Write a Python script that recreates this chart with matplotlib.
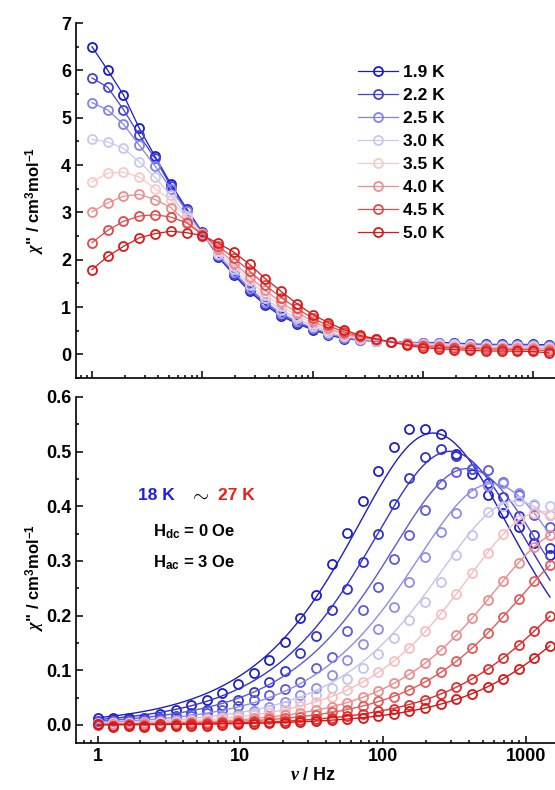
import numpy as np
import matplotlib
matplotlib.use("Agg")
import matplotlib.pyplot as plt
from matplotlib.ticker import LogLocator, NullFormatter, MultipleLocator, FixedLocator, FixedFormatter

plt.rcParams['font.family'] = ['Liberation Sans', 'DejaVu Sans']
plt.rcParams['font.weight'] = 'bold'
plt.rcParams['mathtext.fontset'] = 'custom'
plt.rcParams['mathtext.rm'] = 'Liberation Sans:bold'
plt.rcParams['mathtext.bf'] = 'Liberation Sans:bold'
plt.rcParams['mathtext.it'] = 'Liberation Serif:italic'

# ---- top panel data (low temperature) ----
freq_top = [1.00, 1.39, 1.93, 2.68, 3.73, 5.18, 7.20, 10.0, 13.9, 19.3, 26.8, 37.3, 51.8, 72.0, 100,
            139, 193, 268, 373, 518, 720, 1000, 1389, 1931, 2683, 3728, 5179, 7197, 10000, 13895]
temps_top = ["1.9 K", "2.2 K", "2.5 K", "3.0 K", "3.5 K", "4.0 K", "4.5 K", "5.0 K"]
t19 = [6.50, 6.00, 5.48, 4.78, 4.18, 3.60, 3.08, 2.58, 2.06, 1.68, 1.33, 1.04, 0.81, 0.65, 0.52,
       0.41, 0.33, 0.30, 0.28, 0.27, 0.25, 0.25, 0.25, 0.24, 0.22, 0.21, 0.21, 0.21, 0.21, 0.20]
t22 = [5.84, 5.64, 5.17, 4.63, 4.14, 3.55, 3.05, 2.57, 2.07, 1.70, 1.36, 1.07, 0.84, 0.67, 0.54,
       0.42, 0.34, 0.30, 0.28, 0.27, 0.25, 0.24, 0.24, 0.23, 0.21, 0.20, 0.20, 0.20, 0.20, 0.19]
t25 = [5.32, 5.16, 4.86, 4.42, 3.98, 3.50, 3.02, 2.56, 2.09, 1.74, 1.40, 1.11, 0.87, 0.70, 0.56,
       0.44, 0.35, 0.31, 0.29, 0.27, 0.24, 0.24, 0.23, 0.22, 0.20, 0.19, 0.19, 0.19, 0.19, 0.18]
t30 = [4.54, 4.49, 4.35, 4.07, 3.74, 3.36, 2.93, 2.55, 2.13, 1.80, 1.47, 1.18, 0.94, 0.76, 0.60,
       0.48, 0.38, 0.33, 0.29, 0.27, 0.24, 0.22, 0.22, 0.21, 0.19, 0.18, 0.18, 0.17, 0.17, 0.16]
t35 = [3.64, 3.83, 3.85, 3.75, 3.50, 3.26, 2.89, 2.55, 2.18, 1.87, 1.56, 1.26, 1.02, 0.82, 0.65,
       0.51, 0.41, 0.34, 0.30, 0.27, 0.23, 0.21, 0.20, 0.18, 0.17, 0.15, 0.15, 0.15, 0.15, 0.13]
t40 = [3.01, 3.20, 3.34, 3.38, 3.27, 3.10, 2.80, 2.54, 2.22, 1.94, 1.64, 1.35, 1.10, 0.88, 0.70,
       0.55, 0.43, 0.36, 0.31, 0.26, 0.22, 0.19, 0.18, 0.16, 0.15, 0.13, 0.13, 0.13, 0.13, 0.11]
t45 = [2.36, 2.62, 2.81, 2.92, 2.95, 2.90, 2.78, 2.53, 2.28, 2.04, 1.76, 1.46, 1.20, 0.97, 0.76,
       0.61, 0.47, 0.38, 0.32, 0.26, 0.21, 0.17, 0.15, 0.14, 0.12, 0.11, 0.11, 0.10, 0.10, 0.07]
t50 = [1.79, 2.07, 2.28, 2.46, 2.55, 2.60, 2.57, 2.51, 2.35, 2.16, 1.90, 1.60, 1.33, 1.07, 0.84,
       0.67, 0.52, 0.40, 0.33, 0.26, 0.19, 0.14, 0.12, 0.10, 0.085, 0.07, 0.07, 0.065, 0.06, 0.03]
series_top = [t19, t22, t25, t30, t35, t40, t45, t50]
colors_top = ["#1919d2", "#4141dc", "#8282eb", "#c8c8f5", "#fac8c8", "#f08c8c", "#e14b4b", "#dc1919"]

# ---- bottom panel data (high temperature, 18 K ... 27 K) ----
freq_bot = [1.00, 1.29, 1.65, 2.13, 2.74, 3.52, 4.52, 5.82, 7.48, 9.62, 12.4, 15.9, 20.5, 26.3, 33.9,
            43.6, 56.0, 72.0, 92.6, 119, 153, 197, 253, 326, 419, 539, 693, 892, 1147, 1475]
b18 = [0.012, 0.012, 0.013, 0.013, 0.020, 0.027, 0.036, 0.046, 0.058, 0.075, 0.095, 0.119, 0.151, 0.195, 0.238,
       0.294, 0.352, 0.410, 0.465, 0.509, 0.541, 0.542, 0.532, 0.495, 0.460, 0.420, 0.388, 0.362, 0.332, 0.311]
b19 = [0.008, 0.009, 0.010, 0.011, 0.013, 0.017, 0.022, 0.028, 0.036, 0.046, 0.060, 0.079, 0.099, 0.132, 0.163,
       0.210, 0.249, 0.299, 0.349, 0.404, 0.452, 0.490, 0.505, 0.492, 0.469, 0.443, 0.417, 0.382, 0.347, 0.323]
b20 = [0.006, 0.007, 0.008, 0.009, 0.011, 0.014, 0.017, 0.021, 0.027, 0.035, 0.045, 0.055, 0.066, 0.079, 0.104,
       0.125, 0.171, 0.210, 0.253, 0.303, 0.347, 0.393, 0.440, 0.463, 0.469, 0.466, 0.445, 0.420, 0.385, 0.362]
b21 = [0.004, 0.005, 0.005, 0.006, 0.007, 0.009, 0.011, 0.013, 0.016, 0.020, 0.026, 0.033, 0.042, 0.054, 0.068,
       0.092, 0.119, 0.148, 0.176, 0.216, 0.262, 0.308, 0.353, 0.388, 0.425, 0.437, 0.442, 0.424, 0.402, 0.385]
b22 = [0.003, 0.004, 0.004, 0.005, 0.006, 0.007, 0.009, 0.011, 0.013, 0.017, 0.021, 0.027, 0.034, 0.043, 0.054,
       0.068, 0.085, 0.105, 0.130, 0.160, 0.192, 0.225, 0.262, 0.311, 0.347, 0.390, 0.400, 0.410, 0.405, 0.400]
b23 = [0.002, 0.003, 0.003, 0.004, 0.005, 0.006, 0.008, 0.010, 0.012, 0.015, 0.018, 0.022, 0.028, 0.034, 0.042,
       0.052, 0.064, 0.079, 0.096, 0.117, 0.140, 0.171, 0.203, 0.240, 0.278, 0.315, 0.349, 0.375, 0.388, 0.384]
b24 = [0.001, 0.002, 0.000, 0.003, 0.002, 0.004, 0.005, 0.006, 0.008, 0.009, 0.012, 0.014, 0.018, 0.022, 0.027,
       0.033, 0.041, 0.051, 0.062, 0.076, 0.093, 0.113, 0.137, 0.164, 0.195, 0.229, 0.264, 0.297, 0.326, 0.347]
b25 = [0.001, -0.001, 0.001, 0.000, 0.002, 0.001, 0.003, 0.004, 0.005, 0.006, 0.008, 0.010, 0.012, 0.015, 0.018,
       0.023, 0.028, 0.035, 0.043, 0.052, 0.064, 0.079, 0.096, 0.117, 0.140, 0.168, 0.198, 0.230, 0.263, 0.292]
b26 = [0.000, -0.002, 0.000, -0.001, 0.001, 0.000, 0.002, 0.002, 0.003, 0.004, 0.005, 0.006, 0.007, 0.009, 0.011,
       0.013, 0.016, 0.020, 0.025, 0.030, 0.037, 0.046, 0.056, 0.069, 0.084, 0.102, 0.123, 0.146, 0.172, 0.199]
b27 = [0.001, -0.003, -0.002, -0.003, -0.002, -0.002, -0.001, -0.001, 0.000, 0.001, 0.002, 0.003, 0.004, 0.005, 0.007,
       0.009, 0.011, 0.013, 0.017, 0.020, 0.025, 0.031, 0.038, 0.047, 0.057, 0.070, 0.085, 0.102, 0.122, 0.145]
series_bot = [b18, b19, b20, b21, b22, b23, b24, b25, b26, b27]
# generalized Debye fit parameters per temperature (peak frequency, alpha, chiT - chiS)
fit_f0 = [224, 294, 390, 580, 850, 1300, 2000, 2900, 4500, 6500]
fit_alpha = [0.15] * 10
fit_dchi = [1.355, 1.27, 1.19, 1.12, 1.04, 0.99, 0.904, 0.843, 0.703, 0.638]
colors_bot = ["#1e1ec8", "#3232d2", "#5a5ae1", "#8c8ceb", "#c3c3f5",
              "#fabebe", "#f08c8c", "#e65a5a", "#e12d2d", "#dc1414"]


def debye(f, f0, a, dchi):
    x = (np.asarray(f) / f0) ** (1 - a)
    s, c = np.sin(np.pi * a / 2), np.cos(np.pi * a / 2)
    return dchi * x * c / (1 + 2 * x * s + x ** 2)


fig = plt.figure(figsize=(5.55, 7.90), dpi=100)
W, H = 555, 790
ax1 = fig.add_axes([76 / W, 1 - 378 / H, (W - 76) / W, (378 - 23) / H])
ax2 = fig.add_axes([76 / W, 1 - 743 / H, (W - 76) / W, (743 - 397) / H])

for ys, col, lab in zip(series_top, colors_top, temps_top):
    ax1.plot(freq_top, ys, "-o", color=col, mfc="none", mec=col, ms=6.5, mew=1.3, lw=0.9, label=lab)

fine = np.logspace(0, np.log10(freq_bot[-1]), 300)
for ys, f0, a, d, col in zip(series_bot, fit_f0, fit_alpha, fit_dchi, colors_bot):
    ax2.plot(freq_bot, ys, "o", color=col, mfc="none", mec=col, ms=6.5, mew=1.3)
    ax2.plot(fine, debye(fine, f0, a, d), "-", color=col, lw=1.0)

for ax in (ax1, ax2):
    ax.set_xscale("log")
    for s in ("top", "right"):
        ax.spines[s].set_visible(False)
    for s in ("left", "bottom"):
        ax.spines[s].set_linewidth(1.2)
    ax.tick_params(which="both", direction="in", width=1.1, labelsize=13)
    ax.tick_params(which="major", length=5)
    ax.tick_params(which="minor", length=2.5)
    ax.xaxis.set_major_locator(LogLocator(base=10))
    ax.xaxis.set_minor_locator(LogLocator(base=10, subs=np.arange(2, 10), numticks=20))
    ax.xaxis.set_minor_formatter(NullFormatter())

ax1.set_xlim(0.716, 15770)
ax1.set_ylim(-0.5, 7.0)
ax1.yaxis.set_major_locator(MultipleLocator(1))
ax1.yaxis.set_minor_locator(MultipleLocator(0.5))
ax1.xaxis.set_major_formatter(NullFormatter())

ax2.set_xlim(0.707, 1600)
ax2.set_ylim(-0.033, 0.6)
ax2.yaxis.set_major_locator(MultipleLocator(0.1))
ax2.yaxis.set_minor_locator(MultipleLocator(0.05))
ax2.yaxis.set_major_formatter(plt.FuncFormatter(lambda v, p: f"{v:.1f}"))
ax2.xaxis.set_major_locator(FixedLocator([1, 10, 100, 1000]))
ax2.xaxis.set_major_formatter(FixedFormatter(["1", "10", "100", "1000"]))

ylab = r'$\mathit{\chi}$" / cm$^{\mathrm{3}}$mol$^{\mathrm{-1}}$'
for yc in (200, 577):
    fig.text(35 / W, 1 - yc / H, ylab, rotation=90, ha="center", va="center", fontsize=12)
fig.text(313 / W, 1 - 775 / H, r'$\mathit{\nu}$ / Hz', ha="center", va="center", fontsize=13)

ax1.legend(loc="upper left", bbox_to_anchor=((358 - 76) / 479, (378 - 65) / 355), frameon=False,
           fontsize=12.5, handlelength=2.3, handletextpad=0.3, labelspacing=0.45, borderpad=0,
           borderaxespad=0)

fig.text(138 / W, 1 - 495 / H, "18 K", color="#1e1ee6", fontsize=12.5, ha="left", va="center")
fig.text(199 / W, 1 - 495 / H, r"$\sim$", color="black", fontsize=15, ha="center", va="center")
fig.text(218 / W, 1 - 495 / H, "27 K", color="#e61e1e", fontsize=12.5, ha="left", va="center")
fig.text(194 / W, 1 - 532 / H, r'H$_{\mathrm{dc}}$ = 0 Oe', fontsize=12, ha="center", va="center")
fig.text(194 / W, 1 - 563 / H, r'H$_{\mathrm{ac}}$ = 3 Oe', fontsize=12, ha="center", va="center")

fig.savefig("out.png", dpi=100)
